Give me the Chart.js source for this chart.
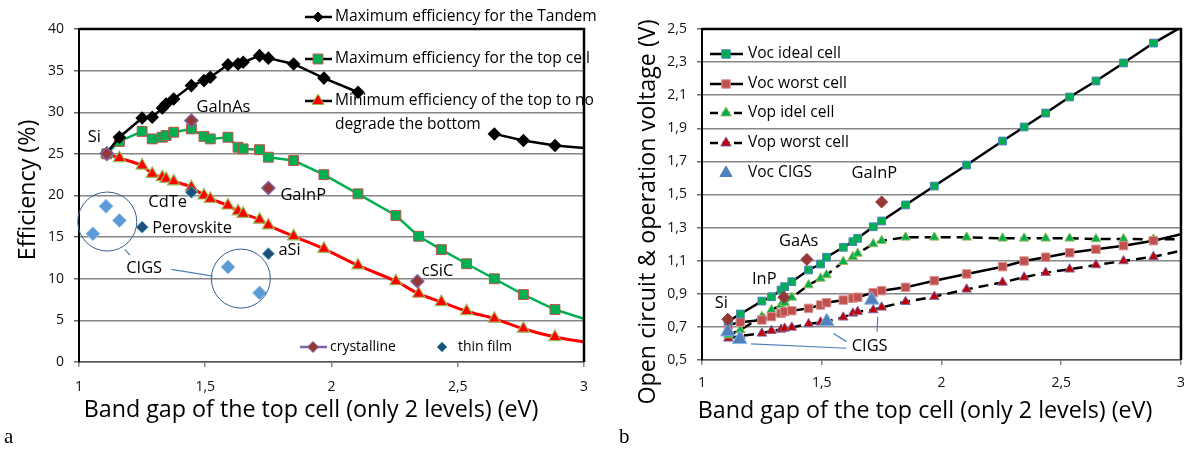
<!DOCTYPE html>
<html>
<head>
<meta charset="utf-8">
<script src="https://cdn.jsdelivr.net/npm/chart.js@4.4.1/dist/chart.umd.min.js"></script>
<style>
	body { margin: 0; background: #fff; }
	#wrap { position: relative; width: 1195px; height: 451px; }
	canvas { position: absolute; top: 0; }
	#chart_a { left: 0; }
	#chart_b { left: 600px; }
</style>
</head>
<body>
<div id="wrap">
	<canvas id="chart_a" width="600" height="451"></canvas>
	<canvas id="chart_b" width="595" height="451"></canvas>
</div>
<script>
// band gap of the top cell (eV), same cells in both panels (last one = line end at the border)
const band_gap = [1.11, 1.16, 1.25, 1.29, 1.33, 1.345, 1.375, 1.445, 1.495, 1.52, 1.59, 1.63, 1.65, 1.715, 1.75,
	1.85, 1.97, 2.105, 2.255, 2.345, 2.435, 2.535, 2.645, 2.76, 2.885, 3.0];

// panel a : efficiency (%)
const eff_tandem = [25.1, 27.0, 29.3, 29.4, 30.5, 31.0, 31.6, 33.2, 33.8, 34.2, 35.7, 35.8, 36.0, 36.8, 36.5,
	35.8, 34.1, 32.4, null, null, null, null, 27.4, 26.6, 26.0, 25.7];
const eff_top_max = [25.0, 26.5, 27.7, 26.8, 27.0, 27.2, 27.6, 28.0, 27.1, 26.8, 27.0, 25.8, 25.6, 25.5, 24.6,
	24.2, 22.5, 20.2, 17.6, 15.1, 13.5, 11.8, 10.0, 8.1, 6.3, 5.2];
const eff_top_min = [25.0, 24.5, 23.6, 22.6, 22.2, 22.0, 21.7, 21.0, 20.0, 19.6, 18.8, 18.1, 17.8, 17.1, 16.4,
	15.1, 13.6, 11.6, 9.7, 8.2, 7.2, 6.1, 5.2, 4.0, 3.0, 2.4];

const cryst_names_a = ["Si", "GaInAs", "GaInP", "cSiC"];
const cryst_gap_a = [1.11, 1.445, 1.75, 2.34];
const cryst_eff = [25.0, 29.0, 20.9, 9.7];

const thin_names = ["CdTe", "Perovskite", "aSi"];
const thin_gap = [1.445, 1.25, 1.75];
const thin_eff = [20.4, 16.2, 13.0];

const cigs_gap_a = [1.107, 1.16, 1.055, 1.59, 1.715];
const cigs_eff = [18.7, 17.0, 15.4, 11.4, 8.3];

// panel b : voltages (V)
const voc_ideal = [0.735, 0.778, 0.856, 0.882, 0.923, 0.943, 0.973, 1.044, 1.080, 1.121, 1.181, 1.215, 1.235, 1.305, 1.340,
	1.437, 1.551, 1.678, 1.823, 1.908, 1.992, 2.089, 2.186, 2.295, 2.415, 2.51];
const voc_worst = [0.711, 0.728, 0.742, 0.762, 0.782, 0.792, 0.798, 0.812, 0.832, 0.846, 0.862, 0.873, 0.879, 0.907, 0.919,
	0.939, 0.979, 1.020, 1.064, 1.098, 1.121, 1.148, 1.169, 1.191, 1.221, 1.26];
const vop_ideal = [0.65, 0.681, 0.762, 0.802, 0.832, 0.846, 0.878, 0.953, 0.993, 1.014, 1.094, 1.124, 1.144, 1.201, 1.221,
	1.241, 1.241, 1.241, 1.235, 1.235, 1.235, 1.235, 1.231, 1.231, 1.229, 1.23];
const vop_worst = [0.631, 0.645, 0.661, 0.677, 0.685, 0.691, 0.697, 0.718, 0.728, 0.732, 0.758, 0.782, 0.792, 0.802, 0.818,
	0.852, 0.883, 0.927, 0.969, 1.000, 1.028, 1.048, 1.074, 1.098, 1.124, 1.16];

const cryst_names_b = ["Si", "InP", "GaAs", "GaInP"];
const cryst_gap_b = [1.108, 1.342, 1.438, 1.75];
const cryst_volt = [0.746, 0.879, 1.108, 1.455];

const cigs_gap_b = [1.108, 1.157, 1.521, 1.709];
const cigs_voc = [0.671, 0.625, 0.732, 0.863];

// axis ticks
const gap_ticks = [1, 1.5, 2, 2.5, 3];
const eff_ticks = [0, 5, 10, 15, 20, 25, 30, 35, 40];
const volt_ticks = [0.5, 0.7, 0.9, 1.1, 1.3, 1.5, 1.7, 1.9, 2.1, 2.3, 2.5];

const x_title = "Band gap of the top cell (only 2 levels) (eV)";

const FONT = "'Open Sans', 'Liberation Sans', sans-serif";

// font size that gives the text the wanted width
let measure_ctx = document.createElement("canvas").getContext("2d");
function fit_size (text, width) {
	measure_ctx.font = "100px " + FONT;
	return 100 * width / measure_ctx.measureText(text).width;
}

const title_size = fit_size(x_title, 455);
const legend_size = fit_size("Maximum efficiency for the Tandem", 262);
const legend_b_size = fit_size("Voc ideal cell", 93);
const small_size = fit_size("crystalline", 66);
const label_size = fit_size("GaInAs", 54);

function pts (xs, ys) {
	return xs.map((x, i) => ({ x: x, y: ys[i] }));
}

function comma (v, digits) {
	return (digits ? v.toFixed(digits) : String(v)).replace(".", ",");
}

// hide the marker of the extra point that only carries the line to the border
function marker_radius (r) {
	return ctx => (ctx.raw && ctx.raw.x >= 3 ? 0 : r);
}

function draw_marker (ctx, style, x, y, r, fill, stroke) {
	ctx.beginPath();
	if (style === "rectRot") {
		ctx.moveTo(x, y - r); ctx.lineTo(x + r, y); ctx.lineTo(x, y + r); ctx.lineTo(x - r, y);
	} else if (style === "rect") {
		let s = r * Math.SQRT1_2;
		ctx.rect(x - s, y - s, 2 * s, 2 * s);
	} else if (style === "triangle") {
		ctx.moveTo(x, y - r); ctx.lineTo(x + r * 0.866, y + r * 0.5); ctx.lineTo(x - r * 0.866, y + r * 0.5);
	}
	ctx.closePath();
	ctx.fillStyle = fill;
	ctx.fill();
	ctx.strokeStyle = stroke;
	ctx.lineWidth = 1;
	ctx.stroke();
}

// labels, circles, leaders, frame, axis titles and the hand placed legends
const annotate_plugin = {
	id: "annotate",
	afterDatasetsDraw (chart, args, opts) {
		let ctx = chart.ctx;
		let sx = chart.scales.x, sy = chart.scales.y, area = chart.chartArea;
		ctx.save();
		ctx.strokeStyle = "#000";
		ctx.lineWidth = 2.5;
		ctx.beginPath();
		ctx.moveTo(area.left, area.top);
		ctx.lineTo(area.right, area.top);
		ctx.lineTo(area.right, area.bottom);
		ctx.stroke();

		(opts.circles || []).forEach(c => {
			ctx.beginPath();
			ctx.arc(sx.getPixelForValue(c.x), sy.getPixelForValue(c.y), c.r, 0, 2 * Math.PI);
			ctx.strokeStyle = "#3B5F8F";
			ctx.lineWidth = 1;
			ctx.stroke();
		});
		(opts.leaders || []).forEach(l => {
			ctx.beginPath();
			ctx.moveTo(sx.getPixelForValue(l[0]), sy.getPixelForValue(l[1]));
			ctx.lineTo(sx.getPixelForValue(l[2]), sy.getPixelForValue(l[3]));
			ctx.strokeStyle = "#4F81BD";
			ctx.lineWidth = 1.2;
			ctx.stroke();
		});

		ctx.fillStyle = "#000";
		ctx.textBaseline = "middle";
		ctx.font = label_size + "px " + FONT;
		(opts.labels || []).forEach(l => {
			ctx.textAlign = l.align || "center";
			ctx.fillText(l.text, sx.getPixelForValue(l.x), sy.getPixelForValue(l.y));
		});

		(opts.legend || []).forEach(e => {
			if (e.line) {
				ctx.beginPath();
				ctx.setLineDash(e.dash || []);
				ctx.moveTo(e.line[0], e.y);
				ctx.lineTo(e.line[1], e.y);
				ctx.strokeStyle = e.line_color || "#000";
				ctx.lineWidth = 2.5;
				ctx.stroke();
				ctx.setLineDash([]);
			}
			if (e.marker) {
				let m = e.marker;
				draw_marker(ctx, m.style, m.x, e.y, m.r, m.fill, m.stroke);
			}
			ctx.fillStyle = "#000";
			ctx.textAlign = "left";
			ctx.font = e.size + "px " + FONT;
			ctx.fillText(e.text, e.text_x, e.y);
		});

		ctx.fillStyle = "#000";
		ctx.textAlign = "center";
		ctx.font = title_size + "px " + FONT;
		(opts.titles || []).forEach(t => {
			ctx.save();
			ctx.translate(t.x, t.y);
			if (t.vertical) {
				ctx.rotate(-Math.PI / 2);
			}
			ctx.fillText(t.text, 0, 0);
			ctx.restore();
		});

		if (opts.corner) {
			ctx.font = "21px 'Liberation Serif', serif";
			ctx.textAlign = "left";
			ctx.fillText(opts.corner.text, opts.corner.x, opts.corner.y);
		}
		ctx.restore();
	}
};

function x_scale (height, tick_pad) {
	return {
		type: "linear",
		min: 1,
		max: 3,
		afterBuildTicks: scale => { scale.ticks = gap_ticks.map(v => ({ value: v })); },
		afterFit: scale => { scale.height = height; },
		grid: { drawOnChartArea: false, tickLength: 5, tickColor: "#888", lineWidth: 1.5 },
		border: { color: "#555", width: 1.5 },
		ticks: {
			padding: tick_pad,
			color: "#111",
			font: { family: FONT, size: 14 },
			callback: v => comma(v)
		}
	};
}

let common = {
	responsive: false,
	animation: false,
	devicePixelRatio: 1,
	events: [],
	plugins: { legend: { display: false }, tooltip: { enabled: false } }
};

let chart_a = new Chart(document.getElementById("chart_a"), {
	type: "scatter",
	plugins: [annotate_plugin],
	data: {
		datasets: [
			{
				label: "crystalline",
				data: pts(cryst_gap_a, cryst_eff),
				pointStyle: "rectRot", pointRadius: 6.5,
				pointBackgroundColor: "#953735", pointBorderColor: "#8064A2", pointBorderWidth: 1.5
			},
			{
				label: "thin film",
				data: pts(thin_gap, thin_eff),
				pointStyle: "rectRot", pointRadius: 6,
				pointBackgroundColor: "#1F4E79", pointBorderColor: "#4BACC6", pointBorderWidth: 1
			},
			{
				label: "CIGS",
				data: pts(cigs_gap_a, cigs_eff),
				pointStyle: "rectRot", pointRadius: 7,
				pointBackgroundColor: "#5B9BD5", pointBorderColor: "#9DC3E6", pointBorderWidth: 1
			},
			{
				label: "Maximum efficiency for the Tandem",
				data: pts(band_gap, eff_tandem),
				showLine: true, spanGaps: false,
				borderColor: "#000", borderWidth: 2.5,
				pointStyle: "rectRot", pointRadius: marker_radius(5),
				pointBackgroundColor: "#000", pointBorderColor: "#000"
			},
			{
				label: "Maximum efficiency for the top cell",
				data: pts(band_gap, eff_top_max),
				showLine: true,
				borderColor: "#00B050", borderWidth: 2.5,
				pointStyle: "rect", pointRadius: marker_radius(7),
				pointBackgroundColor: "#00B050", pointBorderColor: "#C0504D", pointBorderWidth: 1
			},
			{
				label: "Minimum efficiency of the top to no degrade the bottom",
				data: pts(band_gap, eff_top_min),
				showLine: true, tension: 0.3,
				borderColor: "#FF0000", borderWidth: 3,
				pointStyle: "triangle", pointRadius: marker_radius(7),
				pointBackgroundColor: "#FF0000", pointBorderColor: "#9BBB59", pointBorderWidth: 1.2
			}
		]
	},
	options: {
		...common,
		layout: { padding: { top: 29, right: 14, left: 0, bottom: 0 } },
		scales: {
			x: x_scale(89, 12),
			y: {
				type: "linear",
				min: 0,
				max: 40,
				afterBuildTicks: scale => { scale.ticks = eff_ticks.map(v => ({ value: v })); },
				afterFit: scale => { scale.width = 79; },
				grid: { color: "#868686", lineWidth: 1.5, tickLength: 5, tickColor: "#666" },
				border: { color: "#000", width: 2 },
				ticks: { padding: 10, color: "#111", font: { family: FONT, size: 14 } }
			}
		},
		plugins: {
			...common.plugins,
			annotate: {
				labels: [
					{ text: cryst_names_a[0], x: 1.061, y: 27.0 },
					{ text: cryst_names_a[1], x: 1.572, y: 30.6 },
					{ text: cryst_names_a[2], x: 1.888, y: 20.0 },
					{ text: cryst_names_a[3], x: 2.42, y: 10.9 },
					{ text: thin_names[0], x: 1.351, y: 19.2 },
					{ text: thin_names[1], x: 1.29, y: 16.1, align: "left" },
					{ text: thin_names[2], x: 1.79, y: 13.4, align: "left" },
					{ text: "CIGS", x: 1.258, y: 11.2 }
				],
				circles: [
					{ x: 1.112, y: 16.87, r: 29.5 },
					{ x: 1.641, y: 10.02, r: 29.5 }
				],
				leaders: [
					[1.181, 13.53, 1.201, 12.85],
					[1.366, 11.13, 1.530, 10.32]
				],
				legend: [
					{ text: "Maximum efficiency for the Tandem", y: 17, line: [305, 332], text_x: 335, size: legend_size,
						marker: { style: "rectRot", x: 318, r: 5, fill: "#000", stroke: "#000" } },
					{ text: "Maximum efficiency for the top cell", y: 59, line: [305, 332], text_x: 335, size: legend_size,
						marker: { style: "rect", x: 318, r: 7, fill: "#00B050", stroke: "#C0504D" } },
					{ text: "Minimum efficiency of the top to no", y: 101, line: [305, 332], text_x: 335, size: legend_size,
						marker: { style: "triangle", x: 318, r: 7, fill: "#FF0000", stroke: "#9BBB59" } },
					{ text: "degrade the bottom", y: 125, text_x: 335, size: legend_size },
					{ text: "crystalline", y: 347, line: [300, 327], line_color: "#8064A2", text_x: 330, size: small_size,
						marker: { style: "rectRot", x: 313, r: 5.5, fill: "#953735", stroke: "#8064A2" } },
					{ text: "thin film", y: 347, text_x: 458, size: small_size,
						marker: { style: "rectRot", x: 442, r: 5, fill: "#1F4E79", stroke: "#4BACC6" } }
				],
				titles: [
					{ text: x_title, x: 311, y: 410 },
					{ text: "Efficiency (%)", x: 28, y: 190, vertical: true }
				],
				corner: { text: "a", x: 4, y: 437 }
			}
		}
	}
});

let chart_b = new Chart(document.getElementById("chart_b"), {
	type: "scatter",
	plugins: [annotate_plugin],
	data: {
		datasets: [
			{
				label: "crystalline",
				data: pts(cryst_gap_b, cryst_volt),
				pointStyle: "rectRot", pointRadius: 6,
				pointBackgroundColor: "#953735", pointBorderColor: "#953735", pointBorderWidth: 1
			},
			{
				label: "Voc CIGS",
				data: pts(cigs_gap_b, cigs_voc),
				pointStyle: "triangle", pointRadius: 8.5,
				pointBackgroundColor: "#4F81BD", pointBorderColor: "#8EB4E3", pointBorderWidth: 1
			},
			{
				label: "Voc ideal cell",
				data: pts(band_gap, voc_ideal),
				showLine: true,
				borderColor: "#000", borderWidth: 2.5,
				pointStyle: "rect", pointRadius: marker_radius(5.5),
				pointBackgroundColor: "#00B050", pointBorderColor: "#4F81BD", pointBorderWidth: 1
			},
			{
				label: "Voc worst cell",
				data: pts(band_gap, voc_worst),
				showLine: true,
				borderColor: "#000", borderWidth: 2.5,
				pointStyle: "rect", pointRadius: marker_radius(6),
				pointBackgroundColor: "#C0504D", pointBorderColor: "#D99694", pointBorderWidth: 1
			},
			{
				label: "Vop idel cell",
				data: pts(band_gap, vop_ideal),
				showLine: true,
				borderColor: "#000", borderWidth: 2.5, borderDash: [10, 6],
				pointStyle: "triangle", pointRadius: marker_radius(5.5),
				pointBackgroundColor: "#00B050", pointBorderColor: "#9BBB59", pointBorderWidth: 1
			},
			{
				label: "Vop worst cell",
				data: pts(band_gap, vop_worst),
				showLine: true,
				borderColor: "#000", borderWidth: 2.5, borderDash: [10, 6],
				pointStyle: "triangle", pointRadius: marker_radius(5.5),
				pointBackgroundColor: "#C00000", pointBorderColor: "#8064A2", pointBorderWidth: 1
			}
		]
	},
	options: {
		...common,
		layout: { padding: { top: 29, right: 8, left: 0, bottom: 0 } },
		scales: {
			x: x_scale(91, 10),
			y: {
				type: "linear",
				min: 0.5,
				max: 2.5,
				afterBuildTicks: scale => { scale.ticks = volt_ticks.map(v => ({ value: v })); },
				afterFit: scale => { scale.width = 102; },
				grid: { color: "#868686", lineWidth: 1.5, tickLength: 5, tickColor: "#666" },
				border: { color: "#000", width: 2 },
				ticks: { padding: 10, color: "#111", font: { family: FONT, size: 14 }, callback: v => comma(v, 1) }
			}
		},
		plugins: {
			...common.plugins,
			annotate: {
				labels: [
					{ text: cryst_names_b[0], x: 1.081, y: 0.843 },
					{ text: cryst_names_b[1], x: 1.260, y: 0.988 },
					{ text: cryst_names_b[2], x: 1.404, y: 1.215 },
					{ text: cryst_names_b[3], x: 1.720, y: 1.628 },
					{ text: "CIGS", x: 1.700, y: 0.580 }
				],
				leaders: [
					[1.205, 0.597, 1.603, 0.571],
					[1.548, 0.661, 1.603, 0.611],
					[1.734, 0.762, 1.731, 0.671]
				],
				legend: [
					{ text: "Voc ideal cell", y: 54, line: [110, 143], text_x: 148, size: legend_b_size,
						marker: { style: "rect", x: 126, r: 6, fill: "#00B050", stroke: "#4F81BD" } },
					{ text: "Voc worst cell", y: 84, line: [110, 143], text_x: 148, size: legend_b_size,
						marker: { style: "rect", x: 126, r: 6, fill: "#C0504D", stroke: "#D99694" } },
					{ text: "Vop idel cell", y: 113, line: [110, 143], dash: [8, 4], text_x: 148, size: legend_b_size,
						marker: { style: "triangle", x: 126, r: 6, fill: "#00B050", stroke: "#9BBB59" } },
					{ text: "Vop worst cell", y: 143, line: [110, 143], dash: [8, 4], text_x: 148, size: legend_b_size,
						marker: { style: "triangle", x: 126, r: 6, fill: "#C00000", stroke: "#8064A2" } },
					{ text: "Voc CIGS", y: 173, text_x: 148, size: legend_b_size,
						marker: { style: "triangle", x: 126, r: 7, fill: "#4F81BD", stroke: "#4F81BD" } }
				],
				titles: [
					{ text: x_title, x: 325, y: 411 },
					{ text: "Open circuit & operation voltage (V)", x: 48, y: 212, vertical: true }
				],
				corner: { text: "b", x: 19, y: 437 }
			}
		}
	}
});
</script>
</body>
</html>
